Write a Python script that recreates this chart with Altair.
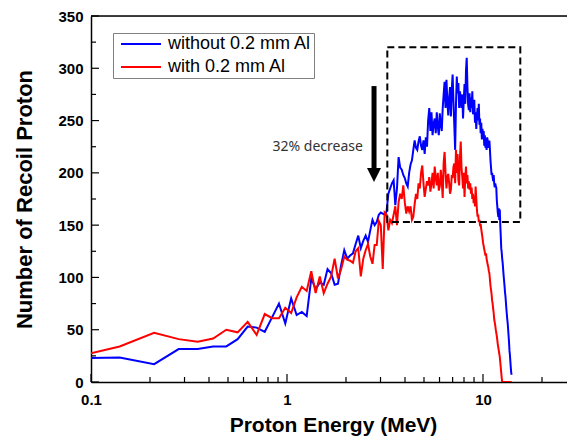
import altair as alt
import pandas as pd

# ---------------- data ----------------
ENERGY = [
    0.07, 0.14, 0.21, 0.28, 0.35, 0.42, 0.49, 0.56, 0.63, 0.70,
    0.77, 0.84, 0.91, 0.98, 1.05, 1.12, 1.19, 1.26, 1.33, 1.40,
    1.47, 1.54, 1.61, 1.68, 1.75, 1.82, 1.89, 1.96, 2.03, 2.10,
    2.17, 2.24, 2.31, 2.38, 2.45, 2.52, 2.59, 2.66, 2.73, 2.80,
    2.87, 2.94, 3.01, 3.08, 3.15, 3.22, 3.29, 3.36, 3.43, 3.50,
    3.57, 3.64, 3.71, 3.78, 3.85, 3.92, 3.99, 4.06, 4.13, 4.20,
    4.27, 4.34, 4.41, 4.48, 4.55, 4.62, 4.69, 4.76, 4.83, 4.90,
    4.97, 5.04, 5.11, 5.18, 5.25, 5.32, 5.39, 5.46, 5.53, 5.60,
    5.67, 5.74, 5.81, 5.88, 5.95, 6.02, 6.09, 6.16, 6.23, 6.30,
    6.37, 6.44, 6.51, 6.58, 6.65, 6.72, 6.79, 6.86, 6.93, 7.00,
    7.07, 7.14, 7.21, 7.28, 7.35, 7.42, 7.49, 7.56, 7.63, 7.70,
    7.77, 7.84, 7.91, 7.98, 8.05, 8.12, 8.19, 8.26, 8.33, 8.40,
    8.47, 8.54, 8.61, 8.68, 8.75, 8.82, 8.89, 8.96, 9.03, 9.10,
    9.17, 9.24, 9.31, 9.38, 9.45, 9.52, 9.59, 9.66, 9.73, 9.80,
    9.87, 9.94, 10.01, 10.08, 10.15, 10.22, 10.29, 10.36, 10.43, 10.50,
    10.57, 10.64, 10.71, 10.78, 10.85, 10.92, 10.99, 11.06, 11.13, 11.20,
    11.27, 11.34, 11.41, 11.48, 11.55, 11.62, 11.69, 11.76, 11.83, 11.90,
    11.97, 12.04, 12.11, 12.18, 12.25, 12.32, 12.39, 12.46, 12.53, 12.60,
    12.67, 12.74, 12.81, 12.88, 12.95, 13.02, 13.09, 13.16, 13.23, 13.30,
    13.37, 13.44, 13.51, 13.58, 13.65, 13.72, 13.79, 13.86, 13.93, 14.00,
]

WITHOUT_AL = [
    22.5, 23.5, 17, 31.5, 31.5, 34, 34, 41, 53, 52,
    48, 62, 75, 56, 80, 64, 67, 63, 99, 89,
    95, 93, 108, 104, 93, 94, 112, 126, 118, 121,
    123, 132, 140, 128, 135, 140, 134, 145, 155, 150,
    153, 160, 162, 161, 160, 163, 180, 185, 190, 193,
    169, 185, 215, 205, 203, 198, 195, 190, 187, 200,
    208, 212, 222, 231, 224, 222, 230, 235, 226, 222,
    231, 218, 234, 225, 250, 262, 240, 258, 236, 247,
    252, 238, 258, 244, 236, 257, 246, 240, 262, 275,
    287, 262, 289, 268, 255, 272, 282, 254, 280, 294,
    268, 245, 222, 265, 292, 276, 286, 262, 278, 270,
    262, 275, 252, 270, 285, 266, 298, 310, 282, 265,
    260, 276, 258, 272, 262, 278, 256, 264, 270, 248,
    258, 242, 254, 262, 250, 266, 246, 252, 238, 248,
    232, 242, 234, 240, 226, 236, 224, 232, 222, 234,
    231, 224, 228, 231, 222, 212, 205, 198, 200, 196,
    192, 198, 190, 186, 190, 187, 186, 174, 168, 162,
    158, 166, 155, 165, 150, 140, 128, 124, 118, 114,
    108, 102, 97, 92, 86, 82, 76, 70, 65, 60,
    56, 50, 44, 38, 30, 26, 20, 14, 9, 7,
]

WITH_AL = [
    20.6, 34, 47, 41, 38.5, 41.5, 50, 47.5, 57.5, 45,
    65, 61, 61, 71, 66, 81, 91, 87, 106, 85,
    101, 85, 94, 101, 118, 99, 108, 120, 117, 116,
    114, 125, 128, 101, 118, 126, 132, 120, 113, 131,
    131, 154, 150, 108, 162, 160, 145, 155, 152, 160,
    168, 150, 172, 180, 175, 188, 172, 161, 168, 163,
    168, 155, 158, 170, 180, 175, 190, 185, 200, 207,
    190, 177, 185, 192, 188, 196, 182, 190, 200, 185,
    206, 195, 188, 200, 183, 187, 203, 192, 176, 210,
    220, 200, 185, 196, 199, 190, 180, 184, 198, 195,
    206, 209, 190, 222, 200, 218, 193, 188, 215, 230,
    205, 196, 185, 200, 177, 195, 206, 190, 198, 185,
    192, 184, 190, 180, 186, 175, 180, 171, 178, 168,
    187, 176, 165, 158, 160, 153, 155, 149, 151, 146,
    142, 138, 133, 130, 127, 124, 121, 123, 118, 115,
    112, 110, 106, 104, 98, 92, 88, 84, 78, 75,
    70, 66, 60, 57, 54, 50, 47, 44, 40, 36,
    33, 30, 27, 24, 19, 14, 9, 4, 0, 0,
    0, 0, 0, 0, 0, 0, 0, 0, 0, 0,
    0, 0, 0, 0, 0, 0, 0, 0, 0, 0,
]

SERIES = ["without 0.2 mm Al", "with 0.2 mm Al"]
COLORS = ["#0000ff", "#ff0000"]

X_MAJOR = [0.1, 1, 10]
X_MINOR = [0.2, 0.3, 0.4, 0.5, 0.6, 0.7, 0.8, 0.9, 2, 3, 4, 5, 6, 7, 8, 9, 20]
Y_MAJOR = [0, 50, 100, 150, 200, 250, 300, 350]
Y_MINOR = [25, 75, 125, 175, 225, 275, 325]

# dashed highlight box (data coordinates)
BOX = [{"x": 3.25, "x2": 15.5, "y": 153, "y2": 320}]
# arrow and its annotation (data coordinates)
ARROW = [{"E": 2.78, "top": 283, "end": 203, "head": 198}]
NOTE = [{"E": 2.44, "N": 225, "text": "32% decrease"}]

# ---------------- chart ----------------
W, H = 476, 366
FONT = "Liberation Sans"

xscale = alt.Scale(type="log", domain=[0.1, 26.83], nice=False)
yscale = alt.Scale(domain=[0, 350], nice=False, zero=False)

df = pd.DataFrame({
    "E": ENERGY + ENERGY,
    "N": WITHOUT_AL + WITH_AL,
    "series": [SERIES[0]] * len(ENERGY) + [SERIES[1]] * len(ENERGY),
})

xaxis = alt.Axis(
    values=X_MAJOR, format="~g", title="Proton Energy (MeV)", ticks=False, grid=False,
    labelFont=FONT, labelFontWeight="bold", labelFontSize=15, labelColor="black",
    labelPadding=10, labelFlush=False,
    titleFont=FONT, titleFontWeight="bold", titleFontSize=21, titleColor="black",
    titleX=242, titleY=49, titleBaseline="alphabetic", titleAlign="center",
    domainColor="black", domainWidth=1.5,
)
yaxis = alt.Axis(
    values=Y_MAJOR, title="Number of Recoil Proton", ticks=False, grid=False,
    labelFont=FONT, labelFontWeight="bold", labelFontSize=15, labelColor="black",
    labelPadding=8, labelFlush=False,
    titleFont=FONT, titleFontWeight="bold", titleFontSize=22, titleColor="black",
    titleX=-67, titleY=H / 2, titleAngle=270, titleBaseline="middle", titleAlign="center",
    domainColor="black", domainWidth=1.5,
)

legend = alt.Legend(
    title=None, orient="none", legendX=22, legendY=17, direction="vertical",
    symbolType="M-4,0L4,0", symbolSize=100, symbolStrokeWidth=2, symbolOffset=17,
    labelFont=FONT, labelFontSize=18, labelColor="black", labelOffset=18, labelLimit=400,
    strokeColor="#808080", fillColor="white", padding=2, rowPadding=5,
)
color = alt.Color("series:N", scale=alt.Scale(domain=SERIES, range=COLORS), legend=legend)

X = lambda f: alt.X(f, scale=xscale, axis=xaxis)
Y = lambda f: alt.Y(f, scale=yscale, axis=yaxis)


def series_line(name):
    return (
        alt.Chart(df)
        .transform_filter(alt.datum.series == name)
        .mark_line(strokeWidth=2, clip=True)
        .encode(x=X("E:Q"), y=Y("N:Q"), color=color)
    )


blue = series_line(SERIES[0])
red = series_line(SERIES[1])

top_border = alt.Chart(pd.DataFrame({"v": [350]})).mark_rule(color="black", strokeWidth=1.5).encode(
    y=Y("v:Q")
)


def yticks(vals, length):
    return alt.Chart(pd.DataFrame({"v": vals})).mark_rule(color="black", strokeWidth=1.2).encode(
        y=Y("v:Q"), x=alt.value(0), x2=alt.value(length)
    )


def xticks(vals, length):
    return alt.Chart(pd.DataFrame({"v": vals})).mark_rule(color="black", strokeWidth=1.2).encode(
        x=X("v:Q"), y=alt.value(H), y2=alt.value(H - length)
    )


box = alt.Chart(pd.DataFrame(BOX)).mark_rect(
    fillOpacity=0, stroke="black", strokeWidth=2, strokeDash=[7, 4]
).encode(x=X("x:Q"), x2="x2:Q", y=Y("y:Q"), y2="y2:Q")

arrow_df = pd.DataFrame(ARROW)
shaft = alt.Chart(arrow_df).mark_rule(color="black", strokeWidth=5).encode(
    x=X("E:Q"), y=Y("top:Q"), y2="end:Q"
)
head = alt.Chart(arrow_df).mark_point(
    shape="M-1,-1L1,-1L0,1Z", size=196, filled=True, color="black", opacity=1
).encode(x=X("E:Q"), y=Y("head:Q"))

note = alt.Chart(pd.DataFrame(NOTE)).mark_text(
    align="right", baseline="middle", font="Noto Sans", fontSize=14, color="#333333"
).encode(x=X("E:Q"), y=Y("N:Q"), text="text:N")

chart = alt.layer(
    blue, red,
    top_border,
    yticks(Y_MAJOR, 8), yticks(Y_MINOR, 5),
    xticks(X_MAJOR, 8), xticks(X_MINOR, 5),
    box, shaft, head, note,
).properties(
    width=W, height=H,
    padding={"left": 83, "top": 8, "right": 0, "bottom": 54},
    autosize=alt.AutoSizeParams(type="none"),
).configure_view(stroke=None).configure(background="white")

chart.save("out.html", embed_options={"renderer": "svg", "actions": False})
